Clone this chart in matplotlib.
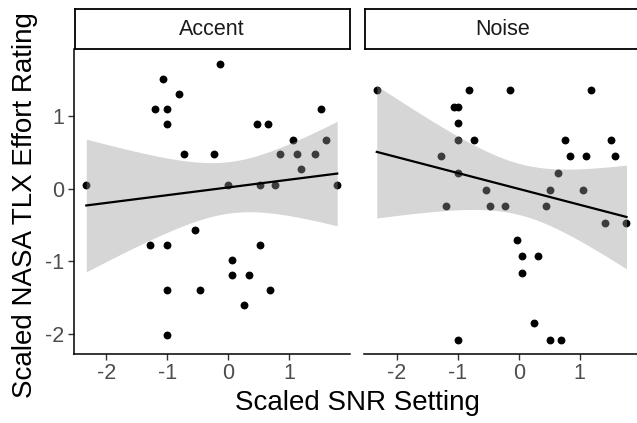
import numpy as np
import matplotlib
matplotlib.use('Agg')
import matplotlib.pyplot as plt

plt.rcParams['font.family'] = ['Liberation Sans', 'DejaVu Sans']
plt.rcParams['axes.unicode_minus'] = False

# Scaled SNR setting (x) and scaled NASA TLX effort rating (y), per condition
accent_x = [-2.33, -0.14, -1.07, -0.81, -1.21, -1.00, 1.52, -1.00, 0.47, 0.66,
            1.07, 1.60, -0.73, -0.23, 0.85, 1.13, 1.43, 1.19, 0.00, 0.52,
            0.77, 1.79, -0.54, -1.28, -1.00, 0.52, 0.06, 0.06, 0.34, -1.00,
            -0.47, 0.69, 0.26, -1.00]
accent_y = [0.06, 1.72, 1.51, 1.31, 1.10, 1.10, 1.10, 0.89, 0.89, 0.89,
            0.68, 0.68, 0.48, 0.48, 0.48, 0.48, 0.48, 0.27, 0.06, 0.06,
            0.06, 0.06, -0.56, -0.77, -0.77, -0.77, -0.98, -1.19, -1.19, -1.39,
            -1.39, -1.39, -1.60, -2.02]

noise_x = [-2.33, -0.81, -0.15, 1.18, -1.07, -1.00, -1.00, -1.00, -0.74, 0.76,
           1.51, -1.27, 0.85, 1.11, 1.58, -1.00, 0.65, -0.54, 0.52, 1.05,
           -1.20, -0.47, -0.23, 0.45, 1.41, 1.77, -0.02, 0.05, 0.32, 0.05,
           0.25, -1.00, 0.52, 0.69]
noise_y = [1.36, 1.36, 1.36, 1.36, 1.13, 1.13, 0.91, 0.68, 0.68, 0.68,
           0.68, 0.45, 0.45, 0.45, 0.45, 0.22, 0.22, -0.01, -0.01, -0.01,
           -0.24, -0.24, -0.24, -0.24, -0.47, -0.47, -0.70, -0.93, -0.93, -1.16,
           -1.85, -2.08, -2.08, -2.08]

panels = ['Accent', 'Noise']
xs = [accent_x, noise_x]
ys = [accent_y, noise_y]

T975 = 2.037  # t quantile, df = 32


def lm_band(x, y, grid):
    x = np.asarray(x); y = np.asarray(y)
    n = len(x)
    b, a = np.polyfit(x, y, 1)
    resid = y - (a + b * x)
    s = np.sqrt(np.sum(resid ** 2) / (n - 2))
    sxx = np.sum((x - x.mean()) ** 2)
    fit = a + b * grid
    se = s * np.sqrt(1.0 / n + (grid - x.mean()) ** 2 / sxx)
    return fit, fit - T975 * se, fit + T975 * se


W, H = 637, 423
fig = plt.figure(figsize=(W / 100, H / 100), dpi=100)

lefts = [73.5, 364.0]
pw = 276.5
top, bottom = 49.0, 353.5
strip_top = 9.0

for i, name in enumerate(panels):
    ax = fig.add_axes([lefts[i] / W, (H - bottom) / H, pw / W, (bottom - top) / H])
    x = np.asarray(xs[i]); y = np.asarray(ys[i])
    ax.scatter(x, y, s=32, color='black', zorder=2, linewidths=0)
    grid = np.linspace(x.min(), x.max(), 80)
    fit, lo, hi = lm_band(x, y, grid)
    ax.fill_between(grid, lo, hi, color='#999999', alpha=0.4, linewidth=0, zorder=3)
    ax.plot(grid, fit, color='black', lw=1.6, zorder=4)

    ax.set_xlim(-2.54, 2.0)
    ax.set_ylim(-2.27, 1.93)
    ax.set_xticks([-2, -1, 0, 1])
    ax.set_yticks([-2, -1, 0, 1])
    for sp in ['top', 'right']:
        ax.spines[sp].set_visible(False)
    ax.spines['bottom'].set_linewidth(1.1)
    ax.spines['left'].set_linewidth(1.1)
    ax.tick_params(colors='#333333', labelcolor='#4D4D4D', labelsize=15.5,
                   length=4, width=1.0, pad=3)
    if i == 1:
        ax.spines['left'].set_visible(False)
        ax.tick_params(axis='y', left=False, labelleft=False)

    sax = fig.add_axes([(lefts[i] + 1) / W, (H - top) / H, (pw - 1) / W,
                        (top - strip_top) / H])
    sax.set_xticks([]); sax.set_yticks([])
    for sp in sax.spines.values():
        sp.set_linewidth(1.3)
        sp.set_color('black')
    sax.text(0.5, 0.48, name, ha='center', va='center', fontsize=15.5,
             color='#1A1A1A', transform=sax.transAxes)

fig.text((73.5 + 364 + pw) / 2 / W, 1 - 403 / H, 'Scaled SNR Setting',
         ha='center', va='center', fontsize=20)
fig.text(25 / W, 1 - 205 / H, 'Scaled NASA TLX Effort Rating',
         ha='center', va='center', rotation=90, fontsize=20)

fig.savefig('out.png', dpi=100)
